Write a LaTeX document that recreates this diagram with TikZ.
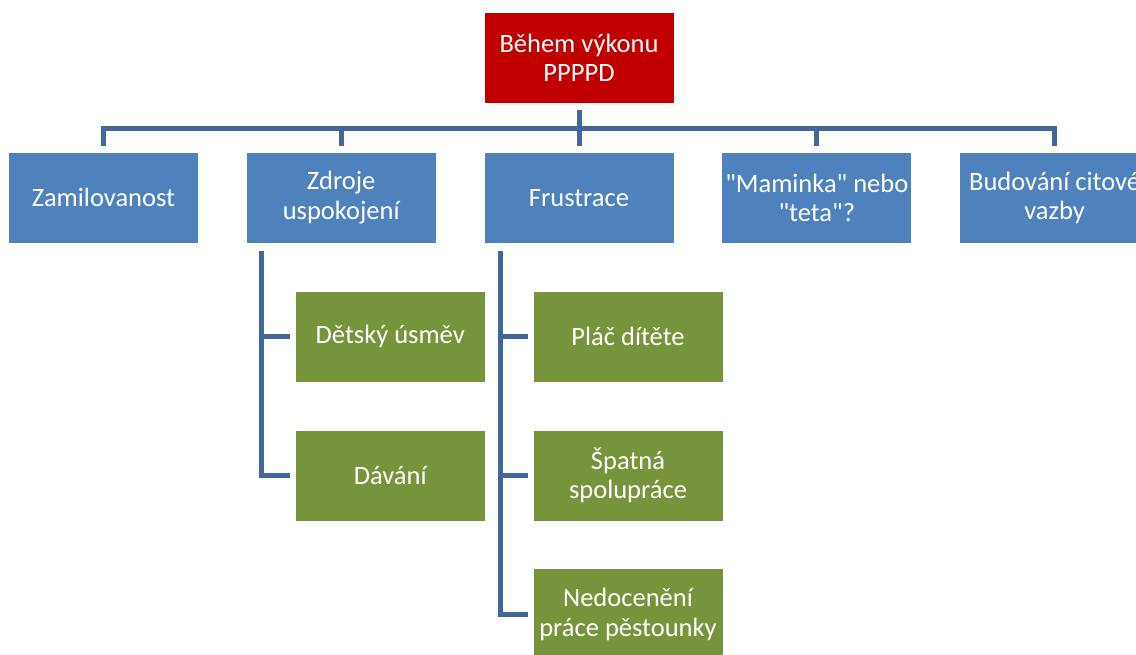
\documentclass[tikz,border=0pt]{standalone}
\usepackage{fontspec}
\setmainfont{Carlito}
\usepackage{xcolor}
\usetikzlibrary{positioning}

\definecolor{boxred}{HTML}{C00000}
\definecolor{boxblue}{HTML}{4F81BD}
\definecolor{boxgreen}{HTML}{77933C}
\definecolor{linkblue}{HTML}{41679C}

\begin{document}
\begin{tikzpicture}[
			x=1pt, y=-1pt,
			node distance=48pt and 47pt,
			card/.style={draw=white, line width=0.8pt, minimum width=190pt, minimum height=91pt, align=center, text=white, font=\fontsize{26.5}{29.5}\selectfont, inner sep=1pt},
			topbox/.style={card, fill=boxred},
			catbox/.style={card, fill=boxblue},
			subbox/.style={card, fill=boxgreen},
			link/.style={draw=linkblue, line width=5pt}
			]
	\useasboundingbox (0,0) rectangle (1136,654);
	\clip (0,0) rectangle (1136,654);
	
	%% Vrchol
	\node[topbox] at (579,58) (vykon) {Během výkonu \\ PPPPD};
	
	%% Druhá úroveň
	\node[catbox, below=of vykon] (frustrace) {Frustrace};
	\node[catbox, left=of frustrace] (zdroje) {Zdroje \\ uspokojení};
	\node[catbox, left=of zdroje] (zamil) {Zamilovanost};
	\node[catbox, right=of frustrace] (maminka) {\textquotedbl Maminka\textquotedbl{} nebo \\ \textquotedbl teta\textquotedbl ?};
	\node[catbox, right=of maminka] (vazba) {Budování citové \\ vazby};
	
	%% Třetí úroveň
	\node[subbox, below=47pt of zdroje, xshift=49pt] (usmev) {Dětský úsměv};
	\node[subbox, below=47pt of usmev] (davani) {Dávání};
	\node[subbox, below=47pt of frustrace, xshift=49pt] (plac) {Pláč dítěte};
	\node[subbox, below=47pt of plac] (spatna) {Špatná \\ spolupráce};
	\node[subbox, below=47pt of spatna] (nedoceneni) {Nedocenění \\ práce pěstounky};
	
	%% Spojnice
	\coordinate (lista) at ([yshift=-25pt]vykon.south);
	\draw[link] ([yshift=-6pt]vykon.south) -- ([yshift=6pt]frustrace.north);
	\draw[link] ([yshift=6pt]zamil.north) |- (lista) -| ([yshift=6pt]vazba.north);
	\draw[link] (zdroje.north |- lista) -- ([yshift=6pt]zdroje.north);
	\draw[link] (maminka.north |- lista) -- ([yshift=6pt]maminka.north);
	
	\coordinate (vetevA) at ([xshift=16pt, yshift=-7pt]zdroje.south west);
	\draw[link] (vetevA) |- ([xshift=-5pt]usmev.west);
	\draw[link] (vetevA) |- ([xshift=-5pt]davani.west);
	
	\coordinate (vetevB) at ([xshift=17pt, yshift=-7pt]frustrace.south west);
	\draw[link] (vetevB) |- ([xshift=-5pt]plac.west);
	\draw[link] (vetevB) |- ([xshift=-5pt]spatna.west);
	\draw[link] (vetevB) |- ([xshift=-5pt]nedoceneni.west);
	
\end{tikzpicture}
\end{document}
